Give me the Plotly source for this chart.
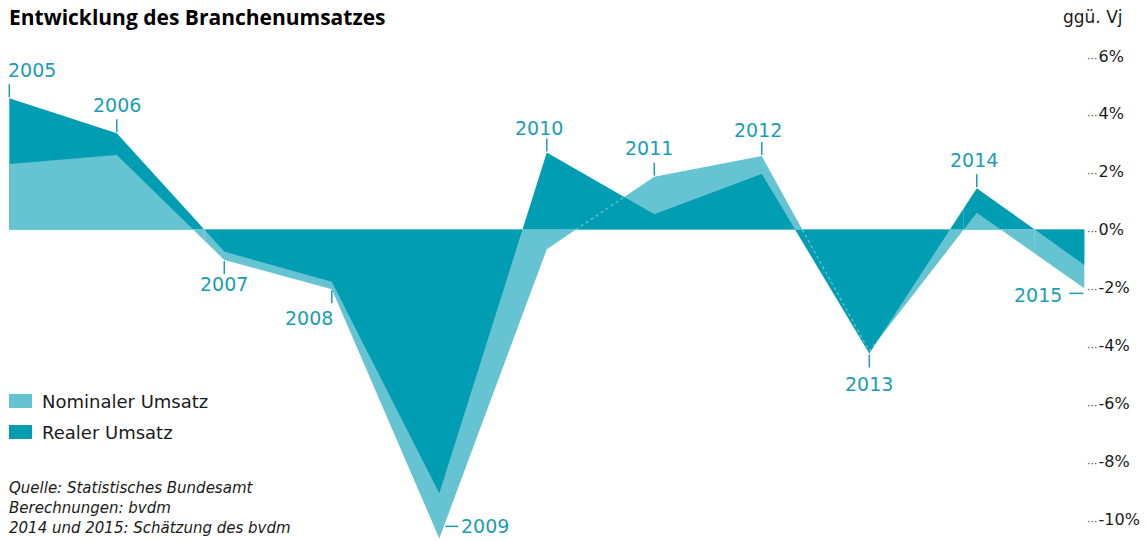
import plotly.graph_objects as go

# ---------------- data ----------------
years = [2005, 2006, 2007, 2008, 2009, 2010, 2011, 2012, 2013, 2014, 2015]
nominal = [2.27, 2.58, -1.05, -2.06, -10.67, -0.68, 1.83, 2.54, -4.20, 0.58, -2.03]
real = [4.54, 3.33, -0.76, -1.80, -9.11, 2.66, 0.53, 1.92, -4.28, 1.43, -1.22]
series_names = ["Nominaler Umsatz", "Realer Umsatz"]
tick_vals = [6, 4, 2, 0, -2, -4, -6, -8, -10]
tick_labels = ["6%", "4%", "2%", "0%", "-2%", "-4%", "-6%", "-8%", "-10%"]
year_labels = [str(y) for y in years]
title_text = "Entwicklung des Branchenumsatzes"
unit_text = "ggü. Vj"
source_lines = ["Quelle: Statistisches Bundesamt",
                "Berechnungen: bvdm",
                "2014 und 2015: Schätzung des bvdm"]

# ---------------- style ----------------
LIGHT = "#66c3d2"
DARK = "#009db3"
LABEL = "#1a9db4"
FONT = "DejaVu Sans"
TITLE_FONT = "Open Sans"
label_side = ["above_left", "above", "below", "below_right", "right",
              "above", "above", "above", "below", "above", "left"]
label_dy = [28, 28, 24, 29, 12, 25, 28.5, 26, 31, 28, -7]     # px offset of label centre
label_dx = [-3, 0, 0, 3, 19, -8, -5, -4, 0, -3, -20]
light_never_on_top = [2010]   # segment(s) where the real area always covers the nominal area

W, H = 1146, 541
MR = 60
PW = W - MR
X_FIRST_PX, PX_PER_YEAR = 9.3, 107.5
ZERO_PX, PX_PER_PCT = 229.6, 28.94
x_range = [years[0] - X_FIRST_PX / PX_PER_YEAR, years[0] + (PW - X_FIRST_PX) / PX_PER_YEAR]
y_range = [(ZERO_PX - H) / PX_PER_PCT, ZERO_PX / PX_PER_PCT]


def lerp(a, b, t):
    return a + (b - a) * t


# ---------- split every segment where ordering / sign changes ----------
pieces = {"n": [], "r": []}
dotted = []
for i in range(len(years) - 1):
    x0, x1 = years[i], years[i + 1]
    r0, r1 = real[i], real[i + 1]
    n0, n1 = nominal[i], nominal[i + 1]
    ts = {0.0, 1.0}
    for f0, f1 in [(r0, r1), (n0, n1), (r0 - n0, r1 - n1), (r0 + n0, r1 + n1)]:
        if f0 != f1:
            t = f0 / (f0 - f1)
            if 0 < t < 1:
                ts.add(t)
    ts = sorted(ts)
    for ta, tb in zip(ts[:-1], ts[1:]):
        tm = (ta + tb) / 2
        rm, nm = lerp(r0, r1, tm), lerp(n0, n1, tm)
        xa, xb = lerp(x0, x1, ta), lerp(x0, x1, tb)
        ra, rb = lerp(r0, r1, ta), lerp(r0, r1, tb)
        na, nb = lerp(n0, n1, ta), lerp(n0, n1, tb)
        lr = ln = None
        if rm * nm > 0:
            light_top = (rm > 0 and nm < rm and years[i] not in light_never_on_top)
            if light_top:
                lr, ln = "bottom", "top"
            else:
                lr, ln = "top", "bottom"
                if abs(nm) < abs(rm):
                    dotted.append((xa, na, xb, nb))
        pieces["r"].append([xa, xb, ra, rb, lr])
        pieces["n"].append([xa, xb, na, nb, ln])

polys = {}
for key in ("n", "r"):
    prev = "bottom"
    for p in pieces[key]:
        if p[4] is None:
            p[4] = prev
        prev = p[4]
    runs = []
    for p in pieces[key]:
        if runs and runs[-1]["layer"] == p[4]:
            runs[-1]["pts"].append((p[1], p[3]))
        else:
            runs.append({"layer": p[4], "pts": [(p[0], p[2]), (p[1], p[3])]})
    for run in runs:
        pts = run["pts"]
        xs = [pt[0] for pt in pts] + [pts[-1][0], pts[0][0], pts[0][0]]
        ys = [pt[1] for pt in pts] + [0, 0, pts[0][1]]
        lst = polys.setdefault((key, run["layer"]), ([], []))
        if lst[0]:
            lst[0].append(None)
            lst[1].append(None)
        lst[0].extend(xs)
        lst[1].extend(ys)

fig = go.Figure()
for layer in ("bottom", "top"):
    for key, color, name in (("n", LIGHT, series_names[0]), ("r", DARK, series_names[1])):
        if (key, layer) in polys:
            xs, ys = polys[(key, layer)]
            fig.add_trace(go.Scatter(x=xs, y=ys, mode="lines", fill="toself",
                                     fillcolor=color, line=dict(width=0, color=color),
                                     name=name, showlegend=False, hoverinfo="skip"))

# faint dotted edge of the nominal area where it lies under the real area
dx, dy = [], []
for xa, na, xb, nb in dotted:
    dx += [xa, xb, None]
    dy += [na, nb, None]
if dx:
    fig.add_trace(go.Scatter(x=dx, y=dy, mode="lines", showlegend=False, hoverinfo="skip",
                             line=dict(color=LIGHT, width=1.3, dash="dot")))

# ---------------- year labels with leader ticks ----------------
shapes = []
annotations = []
TICK = 13
lab_font = dict(family=FONT, size=19, color=LABEL)
for yr, lab, side, nv, rv, ddy, ddx in zip(years, year_labels, label_side, nominal, real,
                                           label_dy, label_dx):
    top = max(nv, rv)
    bot = min(nv, rv)
    if side in ("above", "above_left"):
        shapes.append(dict(type="line", xref="x", yref="y", ysizemode="pixel", yanchor=top,
                           x0=yr, x1=yr, y0=1, y1=TICK + 1, line=dict(color=LABEL, width=1.5)))
        annotations.append(dict(x=yr, y=top, xref="x", yref="y", text=lab, showarrow=False,
                                xanchor="left" if side == "above_left" else "center",
                                xshift=ddx, yanchor="middle", yshift=ddy, font=lab_font))
    elif side in ("below", "below_right"):
        shapes.append(dict(type="line", xref="x", yref="y", ysizemode="pixel", yanchor=bot,
                           x0=yr, x1=yr, y0=-1, y1=-TICK - 1, line=dict(color=LABEL, width=1.5)))
        annotations.append(dict(x=yr, y=bot, xref="x", yref="y", text=lab, showarrow=False,
                                xanchor="right" if side == "below_right" else "center",
                                xshift=ddx, yanchor="middle", yshift=-ddy, font=lab_font))
    elif side == "right":
        shapes.append(dict(type="line", xref="x", yref="y", xsizemode="pixel", ysizemode="pixel",
                           xanchor=yr, yanchor=bot, x0=6, x1=19, y0=ddy, y1=ddy,
                           line=dict(color=LABEL, width=1.5)))
        annotations.append(dict(x=yr, y=bot, xref="x", yref="y", text=lab, showarrow=False,
                                xanchor="left", xshift=ddx + 1, yanchor="middle", yshift=ddy,
                                font=lab_font))
    elif side == "left":
        shapes.append(dict(type="line", xref="x", yref="y", xsizemode="pixel", ysizemode="pixel",
                           xanchor=yr, yanchor=bot, x0=-15, x1=-1, y0=-5, y1=-5,
                           line=dict(color=LABEL, width=1.5)))
        annotations.append(dict(x=yr, y=bot, xref="x", yref="y", text=lab, showarrow=False,
                                xanchor="right", xshift=ddx, yanchor="middle", yshift=ddy,
                                font=lab_font))


def px(xp):
    # paper x spans the plot area (margin l=0, r=MR)
    return xp / PW


def py(yp):
    return 1 - yp / H


# legend (boxes + text)
for name, color, yc in ((series_names[0], LIGHT, 401), (series_names[1], DARK, 432)):
    shapes.append(dict(type="rect", xref="paper", yref="paper", x0=px(9), x1=px(32),
                       y0=py(yc + 7), y1=py(yc - 7), fillcolor=color, line=dict(width=0)))
    annotations.append(dict(x=px(40), y=py(yc), xref="paper", yref="paper", text=name,
                            showarrow=False, xanchor="left", yanchor="middle",
                            font=dict(family=FONT, size=18, color="#1a1a1a")))

# title, unit, source
annotations.append(dict(x=px(7), y=py(17), xref="paper", yref="paper",
                        text="<b>" + title_text + "</b>", showarrow=False,
                        xanchor="left", yanchor="middle",
                        font=dict(family=TITLE_FONT, size=21, color="#000000")))
annotations.append(dict(x=px(1125), y=py(17), xref="paper", yref="paper", text=unit_text,
                        showarrow=False, xanchor="right", yanchor="middle",
                        font=dict(family=FONT, size=17, color="#1a1a1a")))
for k, line in enumerate(source_lines):
    annotations.append(dict(x=px(7), y=py(488 + 20 * k), xref="paper", yref="paper",
                            text="<i>" + line + "</i>", showarrow=False,
                            xanchor="left", yanchor="middle",
                            font=dict(family=FONT, size=15, color="#1a1a1a")))

tick_text = ["<span style='color:#444444;font-size:11px'>···\u200a</span>" + t
             for t in tick_labels]

fig.update_layout(
    width=W, height=H,
    margin=dict(l=0, r=MR, t=0, b=0),
    paper_bgcolor="white", plot_bgcolor="white",
    showlegend=False,
    xaxis=dict(range=x_range, visible=False, fixedrange=True),
    yaxis=dict(range=y_range, side="right", tickvals=tick_vals, ticktext=tick_text,
               showgrid=False, zeroline=False, showline=False, ticks="",
               tickfont=dict(family=FONT, size=16, color="#1a1a1a"), fixedrange=True),
    shapes=shapes,
    annotations=annotations,
)

fig.write_html("out.html")
